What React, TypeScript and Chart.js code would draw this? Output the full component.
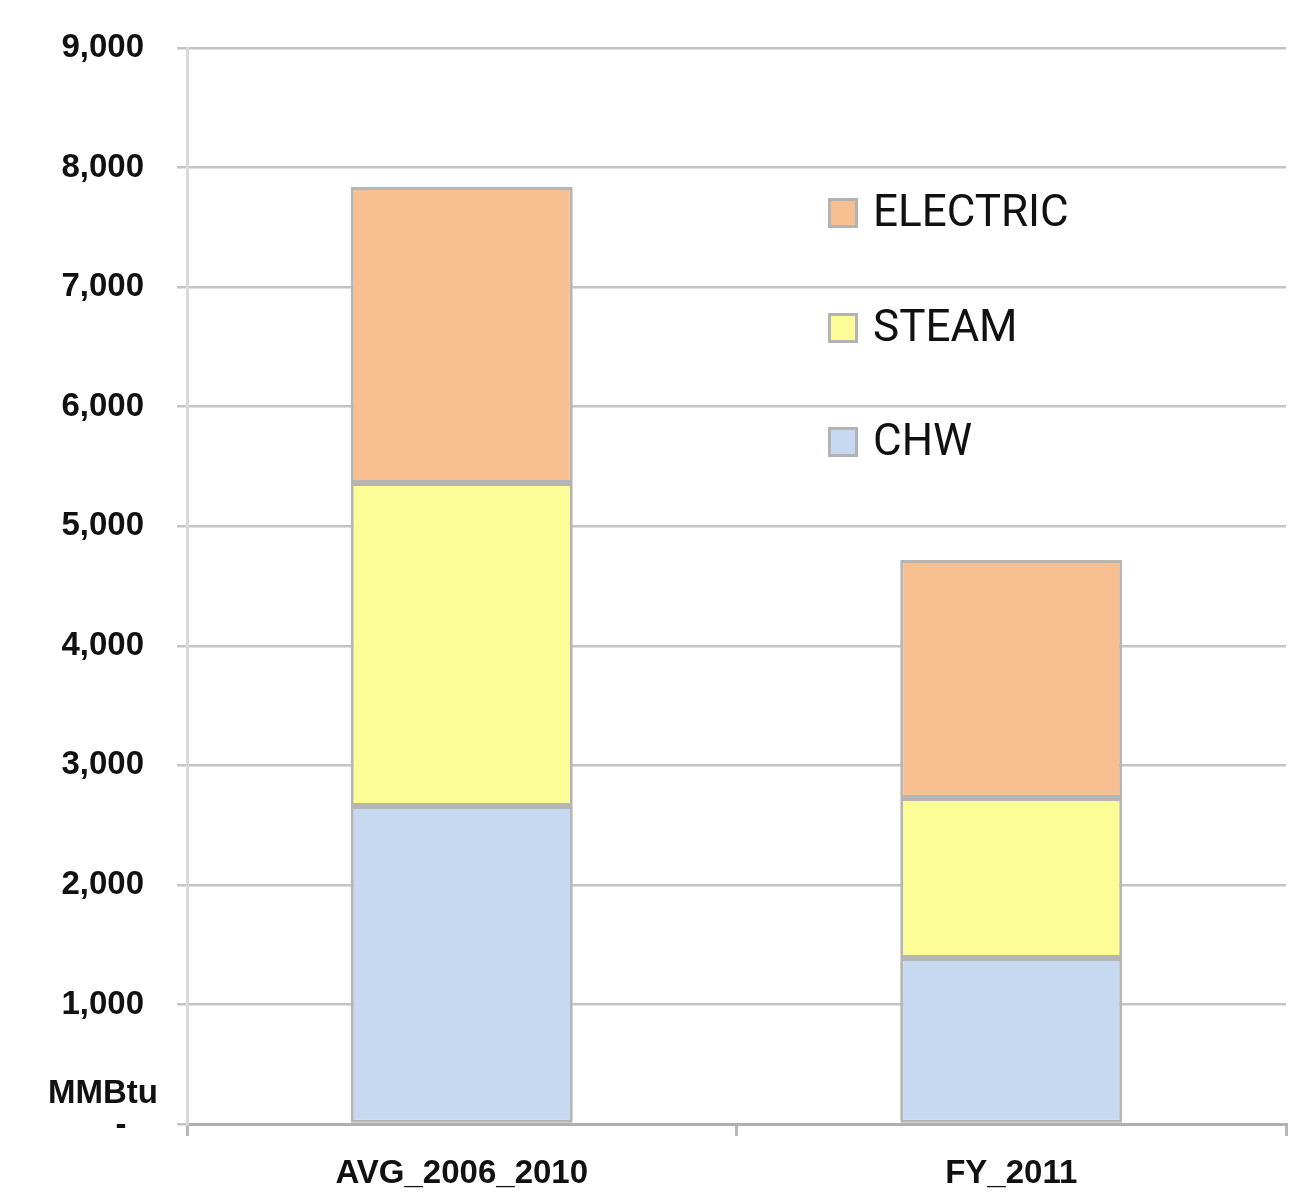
import React, { useEffect, useRef } from "react";
import { Chart, registerables } from "chart.js";

Chart.register(...registerables);

const categories = ["AVG_2006_2010", "FY_2011"];
const chwValues = [2660, 1388];
const steamValues = [2701, 1339];
const electricValues = [2476, 1990];
const yTickValues = [0, 1000, 2000, 3000, 4000, 5000, 6000, 7000, 8000, 9000];
const legendLabels = ["ELECTRIC", "STEAM", "CHW"];
const unitLabel = "MMBtu";
const zeroLabel = "-";

const COLORS = {
  chw: "#C6D9F0",
  steam: "#FDFD97",
  electric: "#F8C090",
};

const AXIS_FONT = "bold 33px 'Liberation Sans', Arial, sans-serif";

const overlayPlugin = {
  id: "overlay",
  afterDraw(chart: any) {
    const ctx = chart.ctx;
    const area = chart.chartArea;
    const yScale = chart.scales.y;
    ctx.save();
    ctx.fillStyle = "#111111";
    ctx.font = AXIS_FONT;
    ctx.textAlign = "right";
    ctx.textBaseline = "middle";
    const y0 = yScale.getPixelForValue(0);
    ctx.fillText(unitLabel, area.left - 29, y0 - 30);
    ctx.textAlign = "center";
    ctx.fillText(zeroLabel, area.left - 66, y0 + 2);

    const legendColors = [COLORS.electric, COLORS.steam, COLORS.chw];
    const x0 = area.left + 641;
    const rowY = [213, 328, 442].map((v) => area.top + (v - 48));
    ctx.font = "44px Roboto, 'Liberation Sans', sans-serif";
    ctx.textAlign = "left";
    ctx.textBaseline = "middle";
    legendLabels.forEach((label, i) => {
      const cy = rowY[i];
      ctx.fillStyle = legendColors[i];
      ctx.fillRect(x0, cy - 15, 30, 30);
      ctx.strokeStyle = "#b3b3b3";
      ctx.lineWidth = 3;
      ctx.strokeRect(x0 + 1.5, cy - 13.5, 27, 27);
      ctx.fillStyle = "#111111";
      ctx.fillText(label, x0 + 45, cy + 2);
    });
    ctx.restore();
  },
};

export default function App() {
  const canvasRef = useRef<HTMLCanvasElement | null>(null);

  useEffect(() => {
    const canvas = canvasRef.current;
    if (!canvas) return;
    const barCommon = {
      borderColor: "#b5b5b5",
      borderWidth: 3,
      borderSkipped: false as const,
      barPercentage: 0.404,
      categoryPercentage: 1.0,
    };
    const chart = new Chart(canvas, {
      type: "bar",
      data: {
        labels: categories,
        datasets: [
          { label: "CHW", data: chwValues, backgroundColor: COLORS.chw, ...barCommon },
          { label: "STEAM", data: steamValues, backgroundColor: COLORS.steam, ...barCommon },
          { label: "ELECTRIC", data: electricValues, backgroundColor: COLORS.electric, ...barCommon },
        ],
      },
      options: {
        responsive: false,
        animation: false,
        devicePixelRatio: 1,
        layout: { padding: { top: 48, right: 20, left: 0, bottom: 0 } },
        plugins: {
          legend: { display: false },
          tooltip: { enabled: false },
          title: { display: false },
        },
        scales: {
          x: {
            stacked: true,
            offset: true,
            grid: {
              offset: true,
              drawOnChartArea: false,
              drawTicks: true,
              tickLength: 12,
              color: "#b8b8b8",
              lineWidth: 3,
            },
            border: { display: true, color: "#b0b0b0", width: 3 },
            ticks: {
              color: "#111111",
              font: { family: "'Liberation Sans', Arial, sans-serif", size: 33, weight: "bold" },
              padding: 18,
              maxRotation: 0,
            },
            afterFit(scale: any) {
              scale.height = 72;
              scale.paddingLeft = 0;
              scale.paddingRight = 0;
            },
          },
          y: {
            stacked: true,
            min: 0,
            max: 9000,
            afterBuildTicks(scale: any) {
              scale.ticks = yTickValues.map((v) => ({ value: v }));
            },
            grid: {
              color: "#c4c4c4",
              lineWidth: 2.5,
              drawTicks: true,
              tickLength: 10,
            },
            border: { display: true, color: "#d9d9d9", width: 3 },
            ticks: {
              color: "#111111",
              font: { family: "'Liberation Sans', Arial, sans-serif", size: 33, weight: "bold" },
              padding: 33,
              callback: (value: any) => (Number(value) === 0 ? "" : Number(value).toLocaleString("en-US")),
            },
            afterFit(scale: any) {
              scale.width = 187;
              scale.paddingTop = 0;
              scale.paddingBottom = 0;
            },
          },
        },
      },
      plugins: [overlayPlugin],
    });
    return () => chart.destroy();
  }, []);

  return (
    <div style={{ position: "absolute", left: 0, top: 0, width: 1306, height: 1196, background: "#ffffff" }}>
      <canvas ref={canvasRef} width={1306} height={1196} style={{ display: "block" }} />
    </div>
  );
}
